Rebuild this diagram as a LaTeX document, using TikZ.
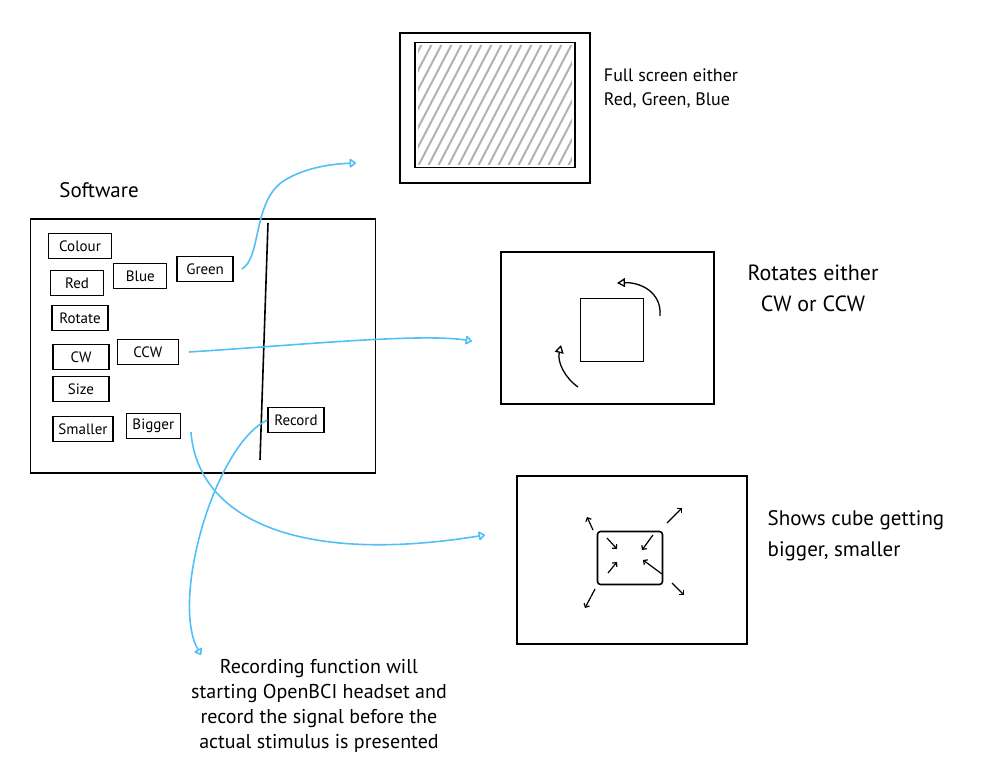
\documentclass[tikz,border=0pt]{standalone}
\usepackage{fontspec}
\setmainfont{PT Sans}
\usetikzlibrary{arrows.meta}
\usetikzlibrary{positioning}
\usetikzlibrary{calc}

\definecolor{sketchblue}{RGB}{82,192,246}

\begin{document}
\begin{tikzpicture}
  [
    x = 1pt, y = -1pt,
    btn/.style = {draw, line width = 1.3pt, rectangle, minimum width = 56pt,
                  minimum height = 25pt, inner sep = 1pt,
                  font = \fontsize{15}{17}\selectfont},
    frame/.style = {draw, line width = 2pt, rectangle},
    inner/.style = {draw, line width = 1.6pt, rectangle},
    note/.style = {align = left, font = \fontsize{18}{24}\selectfont},
    link/.style = {draw = sketchblue, line width = 1.6pt,
                   -{Triangle[open, round, length = 7pt, width = 10pt]}},
    turn/.style = {line width = 1.3pt, -{Triangle[open, length = 8pt, width = 9pt]}},
    tick/.style = {line width = 1.2pt, -{Straight Barb[length = 3pt]}},
  ]
  \useasboundingbox (0,0) rectangle (988,775);

  % software window
  \node[font = \fontsize{21}{24}\selectfont] (title) at (99,190) {Software};
  \node[frame, line width = 1.8pt, minimum width = 345pt, minimum height = 254pt] (panel) at (203,346) {};
  \draw[line width = 1.6pt] (268,223) -- (260,460);

  \node[btn, minimum width = 63pt] (colour) at (80,246) {Colour};
  \node[btn, minimum width = 53pt] (red) at (77,283) {Red};
  \node[btn, minimum width = 53pt, right = 9pt of red, yshift = 7pt] (blue) {Blue};
  \node[btn, right = 9pt of blue, yshift = 7pt] (green) {Green};
  \node[btn] (rotate) at (80,318) {Rotate};
  \node[btn] (cw) at (81,357) {CW};
  \node[btn, minimum width = 61pt, right = 7pt of cw, yshift = 5pt] (ccw) {CCW};
  \node[btn] (size) at (81,389) {Size};
  \node[btn, minimum width = 60pt] (smaller) at (83,429) {Smaller};
  \node[btn, minimum width = 54pt, right = 12pt of smaller, yshift = 3pt] (bigger) {Bigger};
  \node[btn] (record) at (296,420) {Record};

  % colour screen
  \node[frame, minimum width = 190pt, minimum height = 150pt] (monitor) at (495,108) {};
  \node[inner, minimum width = 160pt, minimum height = 125pt] (screen) at (495,105) {};
  \begin{scope}
    \clip ([shift = {(4pt,4pt)}]screen.south west) rectangle ([shift = {(-4pt,-4pt)}]screen.north east);
    \foreach \i in {-90,-80,...,170}
      \draw[gray!60, line width = 2pt] ({415+\i},172) -- ({485+\i},38);
  \end{scope}
  \node[note] (fullnote) at (671,88) {Full screen either\\ Red, Green, Blue};

  % rotation screen
  \node[frame, minimum width = 213pt, minimum height = 152pt] (rotbox) at (607,328) {};
  \node[inner, minimum size = 63pt] (cube) at (612,330) {};
  \draw[turn] (660,316) .. controls (662,292) and (640,282) .. (617,283);
  \draw[turn] (578,387) .. controls (565,378) and (557,362) .. (561,345);
  \node[note, align = center, font = \fontsize{22}{31}\selectfont] (rotnote) at (813,288) {Rotates either\\ CW or CCW};

  % size screen
  \node[frame, minimum width = 230pt, minimum height = 168pt] (sizebox) at (632,560) {};
  \node[inner, rounded corners = 3pt, minimum width = 65pt, minimum height = 53pt] (scube) at (630,558) {};
  \draw[tick] (607,538) -- (617,549);
  \draw[tick] (653,535) -- (642,550);
  \draw[tick] (608,573) -- (617,562);
  \draw[tick] (662,574) -- (643,560);
  \draw[tick] (593,530) -- (587,517);
  \draw[tick] (667,523) -- (682,508);
  \draw[tick] (672,583) -- (684,595);
  \draw[tick] (595,589) -- (585,608);
  \node[note, font = \fontsize{21}{31}\selectfont] (sizenote) at (856,536) {Shows cube getting\\ bigger, smaller};

  \node[note, align = center, font = \fontsize{20}{25}\selectfont] (recnote) at (319,706)
      {Recording function will\\ starting OpenBCI headset and\\ record the signal before the\\ actual stimulus is presented};

  % links
  \coordinate (colour_end) at (356,163);
  \coordinate (rot_end) at (472,341);
  \coordinate (size_end) at (485,535);
  \coordinate (rec_end) at (201,655);
  \draw[link] ([xshift = 8pt]green.east) .. controls (262,258) and (252,200) .. (285,180)
      .. controls (305,168) and (330,164) .. (colour_end);
  \draw[link] ([xshift = 10pt]ccw.east) .. controls (300,345) and (420,333) .. (rot_end);
  \draw[link] ([xshift = 10pt, yshift = -6pt]bigger.east) .. controls (198,520) and (300,565) .. (size_end);
  \draw[link] (record.west) .. controls (215,445) and (170,600) .. (rec_end);
\end{tikzpicture}
\end{document}
